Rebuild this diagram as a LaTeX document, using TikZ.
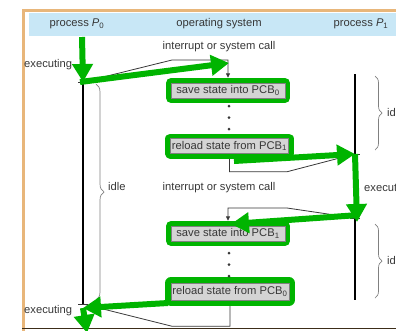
\documentclass[tikz,border=0pt]{standalone}
\usepackage{fontspec}
\setmainfont{Liberation Sans}
\usetikzlibrary{arrows.meta,decorations.pathreplacing,backgrounds}

\definecolor{hlgreen}{RGB}{0,180,0}
\definecolor{headblue}{RGB}{200,231,246}
\definecolor{frameorange}{RGB}{232,182,122}
\definecolor{boxgrey}{RGB}{212,212,212}
\definecolor{ink}{RGB}{55,55,55}
\definecolor{rulebrown}{RGB}{60,45,25}
\definecolor{execblue}{RGB}{60,150,220}

\begin{document}
\begin{tikzpicture}[x=1pt,y=-1pt,
  font=\fontsize{11.2}{13}\selectfont,
  lbl/.style={inner sep=0pt,text=ink},
  pcb/.style={fill=boxgrey,draw=gray,line width=0.5pt,text=ink,
    minimum width=114pt,minimum height=15pt,inner xsep=1.5pt,inner ysep=0pt,
    preaction={draw=hlgreen,line width=#1,line join=round}},
  pcb/.default=10pt,
  conn/.style={draw=ink,line width=0.8pt},
  tip/.style={-{Triangle[length=4.5pt,width=4pt]}},
  timeline/.style={black,line width=2pt},
  tick/.style={ink,line width=0.6pt},
  brc/.style={draw=gray,line width=0.7pt,decorate,decoration={brace,amplitude=#1}},
  hl/.style={hlgreen,line width=6pt,-{Triangle[length=18pt,width=20pt]}}
]
\useasboundingbox (0,0) rectangle (396,330);
\clip (0,0) rectangle (396,330);

% ---- anchor points on the two timelines ----
\coordinate (p0a) at (83,82);
\coordinate (p0b) at (83,304);
\coordinate (p1top) at (355,74);
\coordinate (p1a) at (355,154);
\coordinate (p1b) at (355,218);
\coordinate (p1bot) at (355,300);

% ---- column headings ----
\fill[headblue] (29,13) rectangle (396,36);
\node[lbl] (h0) at (77,24) {process \textit{P}\textsubscript{0}};
\node[lbl] (h1) at (219,24) {operating system};
\node[lbl] (h2) at (361,24) {process \textit{P}\textsubscript{1}};

% ---- operating system steps ----
\node[pcb] (s0) at (228,90.5) {save state into PCB\textsubscript{0}};
\node[pcb] (r1) at (229.5,146) {reload state from PCB\textsubscript{1}};
\node[pcb] (s1) at (228,233.5) {save state into PCB\textsubscript{1}};
\node[pcb=12pt,minimum height=17pt] (r0) at (230,291.5) {reload state from PCB\textsubscript{0}};

% ---- labels ----
\node[lbl] (isc1) at (219,47) {interrupt or system call};
\node[lbl] (isc2) at (219,188) {interrupt or system call};
\node[lbl,anchor=west] (ex0) at (24,65) {executing};
\node[lbl,anchor=west] (ex0b) at (24,311) {executing};
\node[lbl,anchor=west] (idle0) at (108,186) {idle};
\node[lbl,anchor=west] (ex1) at (364,189) {executing};
\node[lbl,anchor=west] (idle1) at (387,112) {idle};
\node[lbl,anchor=west] (idle1b) at (387,260) {idle};

\begin{scope}[on background layer]
  % frame
  \draw[frameorange,line width=3pt] (23,331) -- (23,10.5) -- (397,10.5);
  \draw[rulebrown,line width=1.5pt] (22,328.5) -- (397,328.5);
  % timelines
  \draw[timeline] (p0a) -- (p0b);
  \draw[timeline] (p1top) -- (p1a);
  \draw[timeline] (p1b) -- (p1bot);
  \draw[execblue,line width=0.8pt] (p1a) -- (p1b);
  \foreach \p in {p0a,p0b,p1a,p1b}
    \draw[tick] ([xshift=-5pt]\p) -- ([xshift=5pt]\p);
  % idle braces
  \draw[brc=8pt] (96,84) -- (96,300);
  \draw[brc=7pt] (375,76) -- (375,150);
  \draw[brc=7pt] (375,224) -- (375,298);
  % control transfers
  \draw[conn,tip] (p0a) -- ++(89,-22) -| ([yshift=5pt]s0.north);
  \draw[conn] (r1.south) -- ++(0,18) -- ++(57.5,0) -- (p1a);
  \draw[conn,tip] (p1b) -- ++(-68,-10) -| ([yshift=5pt]s1.north);
  \draw[conn] (r0.south) -- ++(0,26) -- ++(-58,0) -- (p0b);
\end{scope}

% ---- waiting dots ----
\foreach \y in {106,117.5,129,253,264.5,276}
  \fill[ink] (229,\y) circle (1.5pt);

% ---- highlighted flow of control ----
\coordinate (g1s) at (82,37);
\coordinate (g2e) at (229,63);
\coordinate (g3s) at (234,161);
\coordinate (g4e) at (357,222);
\coordinate (g5s) at (359,215);
\coordinate (g5e) at (231,224);
\coordinate (g6s) at (168,303);
\coordinate (g6e) at (83,308);
\coordinate (g7e) at (87,333);
\draw[hl] (g1s) -- (p0a);
\draw[hl] ([xshift=-3pt]p0a) -- (g2e);
\draw[hl] (g3s) -- (p1a);
\draw[hl] (p1a) -- (g4e);
\draw[hl] (g5s) -- (g5e);
\draw[hl] (g6s) -- (g6e);
\draw[hl] (g6e) -- (g7e);
\end{tikzpicture}
\end{document}
